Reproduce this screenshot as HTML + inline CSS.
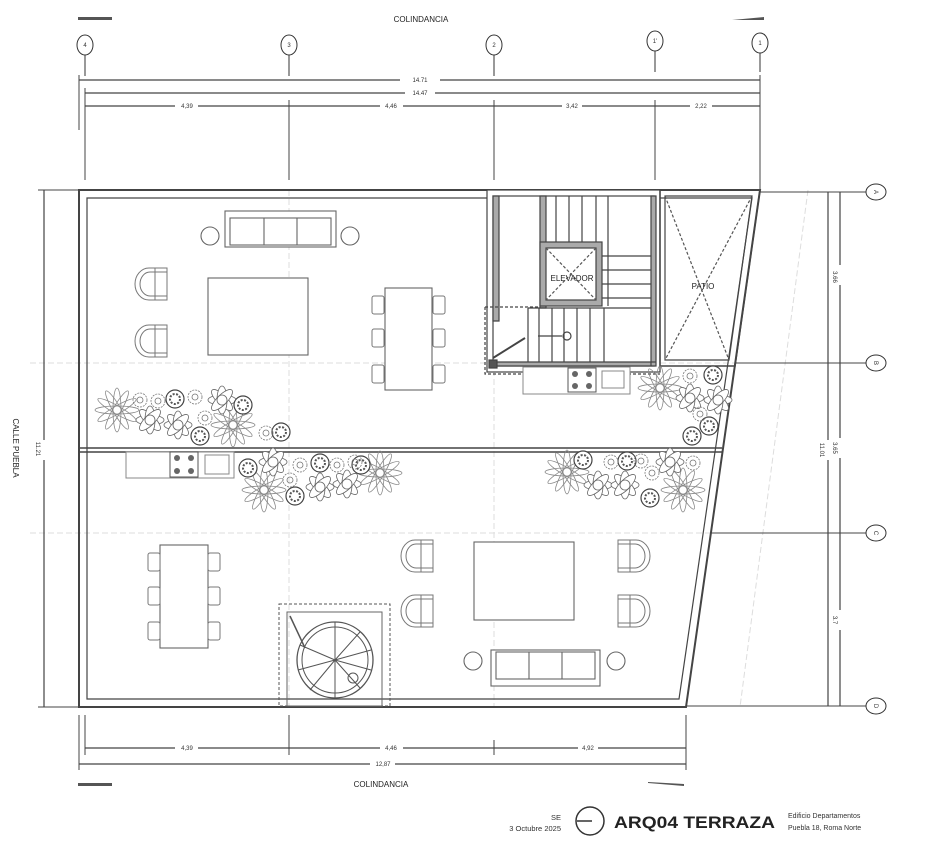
<!DOCTYPE html>
<html><head><meta charset="utf-8"><style>
html,body{margin:0;padding:0;background:#fff;}
svg{display:block;font-family:"Liberation Sans",sans-serif;}
</style></head><body>
<svg width="948" height="860" viewBox="0 0 948 860" xmlns="http://www.w3.org/2000/svg">
<defs>
<g id="big" fill="none" stroke="#888" stroke-width="0.8">
<ellipse rx="22" ry="4"/><ellipse rx="22" ry="4" transform="rotate(30)"/><ellipse rx="22" ry="4" transform="rotate(60)"/><ellipse rx="22" ry="4" transform="rotate(90)"/><ellipse rx="22" ry="4" transform="rotate(120)"/><ellipse rx="22" ry="4" transform="rotate(150)"/>
</g>
<g id="fl" fill="#fff" stroke="#666" stroke-width="0.8">
<ellipse rx="14" ry="5"/><ellipse rx="14" ry="5" transform="rotate(45)"/><ellipse rx="14" ry="5" transform="rotate(90)"/><ellipse rx="14" ry="5" transform="rotate(135)"/><circle r="5"/>
</g>
<g id="rd"><circle r="9" fill="#fff" stroke="#444" stroke-width="1.2"/><circle r="5" fill="none" stroke="#555" stroke-width="2" stroke-dasharray="2 1.5"/></g>
<g id="sm" fill="none" stroke="#777" stroke-width="0.8"><circle r="7" stroke-dasharray="2 1"/><circle r="3"/></g>
<g id="chairL" fill="#fff" stroke="#777" stroke-width="1"><path d="M0 32 V14 A16 14 0 0 1 32 14 V32 Z"/><path d="M4 32 V15 A12 10 0 0 1 28 15 V32 M0 20 H32" fill="none"/></g>
<g id="chairS" fill="#fff" stroke="#777" stroke-width="1"><rect width="12" height="18" rx="2"/></g>
</defs>

<text x="421" y="22" font-size="8" text-anchor="middle" fill="#222">COLINDANCIA</text>
<path d="M78 17 H112 V20 H78Z" fill="#555"/><path d="M732 20 L764 17 V20Z" fill="#555"/>
<g fill="none" stroke="#333" stroke-width="1">
<ellipse cx="85" cy="45" rx="8" ry="10"/><ellipse cx="289" cy="45" rx="8" ry="10"/><ellipse cx="494" cy="45" rx="8" ry="10"/><ellipse cx="655" cy="41" rx="8" ry="10"/><ellipse cx="760" cy="43" rx="8" ry="10"/>
<path d="M85 55 V76 M289 55 V76 M494 55 V76 M655 51 V72 M760 53 V72"/>
</g>
<g font-size="6" fill="#333" text-anchor="middle">
<text x="85" y="47">4</text><text x="289" y="47">3</text><text x="494" y="47">2</text><text x="655" y="43">1'</text><text x="760" y="45">1</text>
</g>
<g stroke="#444" stroke-width="1.2" fill="none">
<path d="M79 80 H400 M440 80 H760"/><path d="M85 93 H405 M435 93 H760"/>
<path d="M85 106 H175 M198 106 H289 M289 106 H380 M403 106 H494 M494 106 H562 M582 106 H655 M655 106 H690 M712 106 H760"/>
<path d="M79 75 V130 M85 88 V180 M289 100 V180 M494 100 V180 M655 100 V180 M760 75 V190" stroke-width="1"/>
</g>
<g font-size="6" fill="#333" text-anchor="middle">
<text x="420" y="82">14.71</text><text x="420" y="95">14.47</text><text x="187" y="108">4,39</text><text x="391" y="108">4,46</text><text x="572" y="108">3,42</text><text x="701" y="108">2,22</text>
</g>

<g stroke="#ddd" stroke-width="1" stroke-dasharray="6 3">
<path d="M289 190 V707 M494 190 V707 M655 190 V370"/>
<path d="M30 363 H860 M30 533 H860"/>
<path d="M808 190 L740 707"/>
</g>

<g fill="none" stroke="#444">
<path d="M79 190 H760 L686 707 H79 Z" stroke-width="2"/>
<path d="M87 198 H752 L679 699 H87 Z" stroke-width="1.2"/>
<path d="M79 448 H722 M79 452 H722" stroke-width="1.5"/>
</g>

<g fill="none" stroke="#444" stroke-width="1.2">
<rect x="487" y="190" width="173" height="182" fill="#fff"/>
<rect x="493" y="196" width="161" height="170"/>
<path d="M493 196 h6 v125 h-6z M540 196 h6 v112 h-6z M651 196 h5 v170 h-5z M493 362 h163 v4 h-163z" fill="#aaa"/>
<rect x="540" y="242" width="62" height="64" fill="#aaa"/>
<rect x="546" y="248" width="50" height="52" fill="#fff"/>
<path d="M546 248 L596 300 M596 248 L546 300" stroke-dasharray="3 2" stroke="#555"/>
<path d="M556 196 V242 M569 196 V242 M582 196 V242 M596 196 V242 M608 196 V242 M608 242 V306 M602 256 H651 M602 270 H651 M602 284 H651 M602 298 H651 M528 308 H651 M528 308 V362 M539 308 V362 M552 308 V362 M564 308 V362 M577 308 V362 M590 308 V362 M604 308 V362"/>
<path d="M538 336 H562" /><circle cx="567" cy="336" r="4"/>
<path d="M493 358 L525 338" stroke-width="2"/>
<rect x="489" y="360" width="8" height="8" fill="#555"/>
<path d="M485 307 H540 M485 307 V374 H660" stroke-dasharray="3 2"/>
<path d="M660 190 H760 L735 366 H660 Z" stroke-width="1.5"/>
<path d="M665 196 H752 L729 360 H665 Z"/>
<path d="M665 196 L729 360 M752 196 L665 360" stroke-dasharray="3 2" stroke="#555"/>
</g>
<g font-size="8" fill="#222" text-anchor="middle"><text x="572" y="281">ELEVADOR</text><text x="703" y="289">PATIO</text></g>

<g fill="#fff" stroke="#888" stroke-width="1">
<rect x="523" y="367" width="107" height="27"/><rect x="568" y="368" width="28" height="24" stroke="#555"/><rect x="602" y="371" width="22" height="17"/>
<rect x="126" y="452" width="108" height="26"/><rect x="170" y="452" width="28" height="25" stroke="#555"/><rect x="205" y="455" width="24" height="19"/>
</g>
<g fill="#666"><circle cx="575" cy="374" r="3"/><circle cx="589" cy="374" r="3"/><circle cx="575" cy="386" r="3"/><circle cx="589" cy="386" r="3"/>
<circle cx="177" cy="458" r="3"/><circle cx="191" cy="458" r="3"/><circle cx="177" cy="471" r="3"/><circle cx="191" cy="471" r="3"/></g>

<g fill="#fff" stroke="#666" stroke-width="1.1">
<rect x="225" y="211" width="111" height="36"/><rect x="230" y="218" width="101" height="27"/>
<path d="M264 218 V245 M297 218 V245" fill="none"/>
<circle cx="210" cy="236" r="9"/><circle cx="350" cy="236" r="9"/>
<rect x="208" y="278" width="100" height="77"/>
<rect x="385" y="288" width="47" height="102"/>
</g>
<use href="#chairL" transform="translate(135,300) rotate(-90)"/>
<use href="#chairL" transform="translate(135,357) rotate(-90)"/>
<g><use href="#chairS" x="372" y="296"/><use href="#chairS" x="372" y="329"/><use href="#chairS" x="372" y="365"/>
<use href="#chairS" x="433" y="296"/><use href="#chairS" x="433" y="329"/><use href="#chairS" x="433" y="365"/></g>

<g fill="#fff" stroke="#666" stroke-width="1.1">
<rect x="160" y="545" width="48" height="103"/>
<rect x="474" y="542" width="100" height="78"/>
<rect x="491" y="650" width="109" height="36"/><rect x="496" y="652" width="99" height="27"/>
<path d="M529 652 V679 M562 652 V679" fill="none"/>
<circle cx="473" cy="661" r="9"/><circle cx="616" cy="661" r="9"/>
</g>
<g><use href="#chairS" x="148" y="553"/><use href="#chairS" x="148" y="587"/><use href="#chairS" x="148" y="622"/>
<use href="#chairS" x="208" y="553"/><use href="#chairS" x="208" y="587"/><use href="#chairS" x="208" y="622"/></g>
<use href="#chairL" transform="translate(401,572) rotate(-90)"/>
<use href="#chairL" transform="translate(401,627) rotate(-90)"/>
<use href="#chairL" transform="translate(650,540) rotate(90)"/>
<use href="#chairL" transform="translate(650,595) rotate(90)"/>

<g fill="none" stroke="#555" stroke-width="1">
<path d="M279 604 H390 V706 H279 Z" stroke-dasharray="3 2"/>
<rect x="287" y="612" width="95" height="94" stroke="#666"/>
<circle cx="335" cy="660" r="38" fill="#fff" stroke-width="1.3"/>
<circle cx="335" cy="660" r="33"/>
<circle cx="353" cy="678" r="5"/>
<path d="M335 660 L335 622 M335 660 L360 632 M335 660 L371 650 M335 660 L371 670 M335 660 L360 688 M335 660 L335 698 M335 660 L310 690 M335 660 L298 670 M335 660 L300 645"/>
<path d="M290 616 L305 648" stroke-width="1.5"/>
</g>

<g>
<use href="#big" x="117" y="410"/><use href="#big" x="233" y="425"/>
<use href="#fl" x="150" y="420"/><use href="#fl" x="178" y="425"/><use href="#fl" x="222" y="400"/>
<use href="#rd" x="175" y="399"/><use href="#rd" x="243" y="405"/><use href="#rd" x="200" y="436"/><use href="#rd" x="281" y="432"/>
<use href="#sm" x="140" y="400"/><use href="#sm" x="158" y="401"/><use href="#sm" x="195" y="397"/><use href="#sm" x="205" y="418"/><use href="#sm" x="266" y="433"/>
<use href="#big" x="264" y="490"/><use href="#big" x="380" y="473"/>
<use href="#fl" x="273" y="462"/><use href="#fl" x="320" y="487"/><use href="#fl" x="347" y="484"/>
<use href="#rd" x="248" y="468"/><use href="#rd" x="295" y="496"/><use href="#rd" x="320" y="463"/><use href="#rd" x="361" y="465"/>
<use href="#sm" x="300" y="465"/><use href="#sm" x="290" y="480"/><use href="#sm" x="337" y="465"/><use href="#sm" x="355" y="462"/>
<use href="#big" x="660" y="388"/>
<use href="#fl" x="690" y="398"/><use href="#fl" x="718" y="400"/>
<use href="#rd" x="713" y="375"/><use href="#rd" x="692" y="436"/><use href="#rd" x="709" y="426"/>
<use href="#sm" x="690" y="376"/><use href="#sm" x="700" y="414"/>
<use href="#big" x="567" y="472"/><use href="#big" x="683" y="490"/>
<use href="#fl" x="598" y="485"/><use href="#fl" x="625" y="485"/><use href="#fl" x="670" y="462"/>
<use href="#rd" x="583" y="460"/><use href="#rd" x="627" y="461"/><use href="#rd" x="650" y="498"/>
<use href="#sm" x="611" y="462"/><use href="#sm" x="641" y="461"/><use href="#sm" x="693" y="463"/><use href="#sm" x="652" y="473"/>
</g>

<g stroke="#444" stroke-width="1.2" fill="none">
<path d="M44 190 V440 M44 460 V707"/><path d="M38 190 H79 M38 707 H79" stroke-width="1"/>
</g>
<text transform="translate(36,449) rotate(90)" font-size="6" text-anchor="middle" fill="#333">11.21</text>
<text transform="translate(13,448) rotate(90)" font-size="8" text-anchor="middle" fill="#222">CALLE PUEBLA</text>

<g stroke="#444" stroke-width="1.2" fill="none">
<path d="M828 192 V440 M828 460 V706"/>
<path d="M840 192 V265 M840 285 V363 M840 363 V438 M840 458 V533 M840 533 V610 M840 630 V706"/>
<path d="M760 192 H866 M735 363 H866 M710 533 H866 M686 706 H866" stroke-width="1"/>
</g>
<g fill="none" stroke="#333"><ellipse cx="876" cy="192" rx="10" ry="8"/><ellipse cx="876" cy="363" rx="10" ry="8"/><ellipse cx="876" cy="533" rx="10" ry="8"/><ellipse cx="876" cy="706" rx="10" ry="8"/></g>
<g font-size="6" fill="#333" text-anchor="middle">
<text transform="translate(876,192) rotate(90)" y="2">A</text><text transform="translate(876,363) rotate(90)" y="2">B</text><text transform="translate(876,533) rotate(90)" y="2">C</text><text transform="translate(876,706) rotate(90)" y="2">D</text>
<text transform="translate(820,450) rotate(90)">11.01</text>
<text transform="translate(833,277) rotate(90)">3.66</text><text transform="translate(833,448) rotate(90)">3.65</text><text transform="translate(833,620) rotate(90)">3.7</text>
</g>

<g stroke="#444" stroke-width="1.2" fill="none">
<path d="M85 748 H175 M198 748 H289 M289 748 H380 M403 748 H494 M494 748 H578 M598 748 H686"/>
<path d="M79 764 H370 M395 764 H686"/>
<path d="M79 715 V770 M85 715 V755 M289 715 V755 M494 740 V755 M686 715 V770" stroke-width="1"/>
</g>
<g font-size="6" fill="#333" text-anchor="middle">
<text x="187" y="750">4,39</text><text x="391" y="750">4,46</text><text x="588" y="750">4,92</text><text x="383" y="766">12,87</text>
</g>
<text x="381" y="787" font-size="8" text-anchor="middle" fill="#222">COLINDANCIA</text>
<path d="M78 783 H112 V786 H78Z" fill="#555"/><path d="M648 782 L684 784 V786 L648 783Z" fill="#555"/>

<text x="561" y="820" font-size="7.5" text-anchor="end" fill="#333">SE</text>
<text x="561" y="831" font-size="7.5" text-anchor="end" fill="#333">3 Octubre 2025</text>
<circle cx="590" cy="821" r="14" fill="none" stroke="#333" stroke-width="1.5"/>
<path d="M577 821 H592" stroke="#333" stroke-width="1.5"/>
<text x="614" y="828" font-size="17" font-weight="bold" fill="#222" textLength="161" lengthAdjust="spacingAndGlyphs">ARQ04 TERRAZA</text>
<text x="788" y="818" font-size="7" fill="#333">Edificio Departamentos</text>
<text x="788" y="830" font-size="7" fill="#333">Puebla 18, Roma Norte</text>
</svg>
</body></html>
